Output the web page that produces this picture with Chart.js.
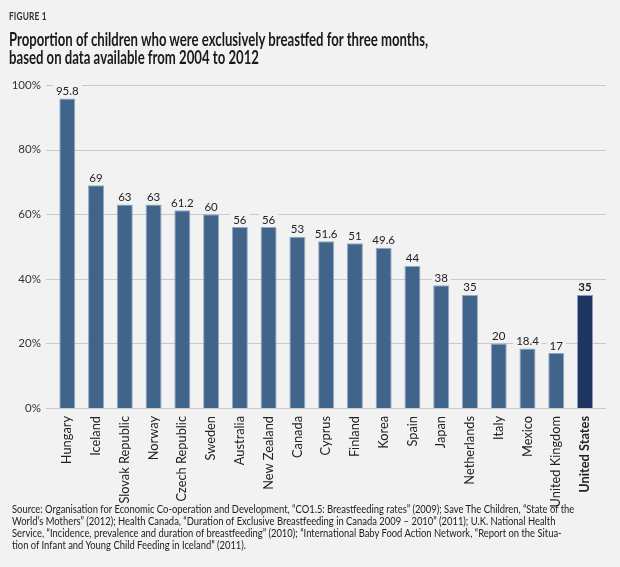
<!DOCTYPE html>
<html>
<head>
<meta charset="utf-8">
<script src="https://cdn.jsdelivr.net/npm/chart.js@4.4.1/dist/chart.umd.min.js"></script>
<style>
  html, body { margin:0; padding:0; background:#f2f2f2; }
  #wrap { position:relative; width:620px; height:567px; overflow:hidden; background:#f2f2f2; }
  canvas { position:absolute; left:0; top:0; }
  .t { position:absolute; left:0; white-space:nowrap; transform-origin:0 0; font-family:Lato, "Open Sans", sans-serif; }
  .fig { font-size:10.5px; line-height:12px; font-weight:700; color:#333; letter-spacing:0.2px; }
  .ttl { font-size:19px; line-height:20px; font-weight:700; color:#1a1a1a; }
  .src { font-size:10.8px; line-height:12.25px; color:#222; }
</style>
</head>
<body>
<div id="wrap">
  <canvas id="c" width="620" height="567"></canvas>
  <div class="t fig" id="fig" style="left:9px;top:10px">FIGURE 1</div>
  <div class="t ttl" id="t1" style="left:9px;top:29px">Proportion of children who were exclusively breastfed for three months,</div>
  <div class="t ttl" id="t2" style="left:9px;top:47px">based on data available from 2004 to 2012</div>
  <div id="srcbox"></div>
</div>
<script>
const categories = ["Hungary","Iceland","Slovak Republic","Norway","Czech Republic","Sweden","Australia","New Zealand","Canada","Cyprus","Finland","Korea","Spain","Japan","Netherlands","Italy","Mexico","United Kingdom","United States"];
const values = [95.8, 69, 63, 63, 61.2, 60, 56, 56, 53, 51.6, 51, 49.6, 44, 38, 35, 20, 18.4, 17, 35];
const yTicks = [0, 20, 40, 60, 80, 100];
const highlightIndex = 18;
const sourceLines = [
  "Source: Organisation for Economic Co-operation and Development, \u201cCO1.5: Breastfeeding rates\u201d (2009); Save The Children, \u201cState of the",
  "World\u2019s Mothers\u201d (2012); Health Canada, \u201cDuration of Exclusive Breastfeeding in Canada 2009 \u2013 2010\u201d (2011); U.K. National Health",
  "Service, \u201cIncidence, prevalence and duration of breastfeeding\u201d (2010); \u201cInternational Baby Food Action Network, \u201cReport on the Situa-",
  "tion of Infant and Young Child Feeding in Iceland\u201d (2011)."
];

const srcbox = document.getElementById('srcbox');
sourceLines.forEach((s, i) => {
  const d = document.createElement('div');
  d.className = 't src';
  d.style.left = '12px';
  d.style.top = (502.5 + i * 12.25) + 'px';
  d.textContent = s;
  srcbox.appendChild(d);
});

function fitGroup(els, refEl, target) {
  const w = refEl.offsetWidth;
  const s = target / w;
  els.forEach(el => { el.style.transform = 'scaleX(' + s + ')'; });
}

const BAR = '#41658a', BAR_US = '#1d3560', BG = '#f2f2f2';

const gridPlugin = {
  id: 'extGrid',
  beforeDatasetsDraw(chart) {
    const ys = chart.scales.y, ctx = chart.ctx;
    ctx.save();
    ctx.strokeStyle = '#c8c8c8';
    ctx.lineWidth = 1.2;
    ys.ticks.forEach(t => {
      const y = Math.round(ys.getPixelForValue(t.value)) + 0.5;
      ctx.beginPath();
      ctx.moveTo(46, y);
      ctx.lineTo(606, y);
      ctx.stroke();
    });
    ctx.restore();
  }
};

const labelPlugin = {
  id: 'valLabels',
  afterDatasetsDraw(chart) {
    const ctx = chart.ctx;
    const meta = chart.getDatasetMeta(0);
    ctx.save();
    meta.data.forEach((el, i) => {
      const txt = String(values[i]);
      ctx.font = (i === highlightIndex ? '700 ' : '400 ') + '11.5px Lato, "Open Sans", sans-serif';
      const w = ctx.measureText(txt).width;
      const yb = el.y - 3.5;
      ctx.fillStyle = BG;
      ctx.fillRect(el.x - w / 2 - 3, yb - 11, w + 6, 11);
      ctx.fillStyle = '#222';
      ctx.textAlign = 'center';
      ctx.textBaseline = 'alphabetic';
      ctx.fillText(txt, el.x, yb);
    });
    ctx.restore();
  }
};

const chart = new Chart(document.getElementById('c'), {
  type: 'bar',
  data: {
    labels: categories,
    datasets: [{
      data: values,
      backgroundColor: values.map((v, i) => i === highlightIndex ? BAR_US : BAR),
      borderColor: values.map((v, i) => i === highlightIndex ? '#8c9cc0' : '#93a9c0'),
      borderWidth: 1,
      borderSkipped: 'bottom',
      barPercentage: 0.556,
      categoryPercentage: 1
    }]
  },
  options: {
    responsive: false,
    animation: false,
    devicePixelRatio: 1,
    layout: { padding: { top: 85, right: 20.6, bottom: 59, left: 0 } },
    plugins: { legend: { display: false }, title: { display: false }, tooltip: { enabled: false } },
    scales: {
      y: {
        min: 0, max: 100,
        afterBuildTicks(s) { s.ticks = yTicks.map(v => ({ value: v })); },
        afterFit(s) { s.width = 52.9; },
        grid: { display: false, drawTicks: false },
        border: { display: false },
        ticks: {
          padding: 12,
          color: '#333',
          font: { family: 'Lato, "Open Sans", sans-serif', size: 11.5 },
          callback: v => v + '%'
        }
      },
      x: {
        afterFit(s) { s.height = 100; },
        grid: { display: false, drawTicks: false },
        border: { display: false },
        ticks: {
          autoSkip: false,
          minRotation: 90,
          maxRotation: 90,
          padding: 8,
          color: '#222',
          font: c => ({ family: 'Lato, "Open Sans", sans-serif', size: 12.8, weight: c.index === highlightIndex ? '700' : '400' })
        }
      }
    }
  },
  plugins: [gridPlugin, labelPlugin]
});

function doFit() {
  const t1 = document.getElementById('t1'), t2 = document.getElementById('t2');
  fitGroup([t1, t2], t1, 419);
  const fig = document.getElementById('fig');
  fitGroup([fig], fig, 38);
  const srcs = Array.from(document.querySelectorAll('.src'));
  fitGroup(srcs, srcs[0], 562);
}
doFit();
if (document.fonts && document.fonts.ready) { document.fonts.ready.then(doFit); }
</script>
</body>
</html>
